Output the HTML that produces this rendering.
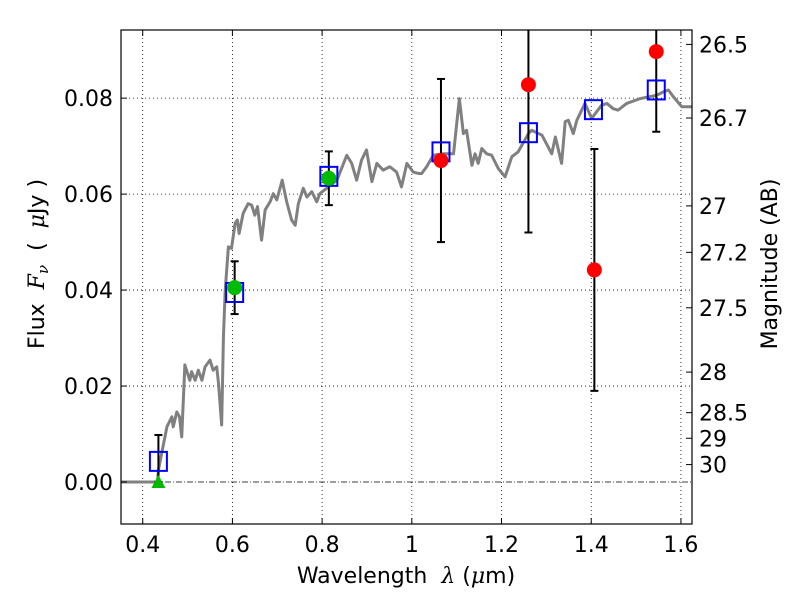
<!DOCTYPE html>
<html><head><meta charset="utf-8"><style>
body{margin:0;background:#fff}
svg{display:block;font-family:"DejaVu Sans","Liberation Sans",sans-serif}
.pre{white-space:pre}
</style></head><body>
<svg id="chart" width="800" height="600">
<defs><clipPath id="clip"><rect x="121" y="30" width="571" height="494"/></clipPath></defs>
<rect x="0" y="0" width="800" height="600" fill="#fff"/>
<g id="grid"></g><g id="plot" clip-path="url(#clip)"></g><g id="axes"></g>
<text class="pre" x="406" y="583" font-size="22" text-anchor="middle">Wavelength  <tspan font-style="italic" font-family="DejaVu Serif, serif">λ</tspan> (<tspan font-style="italic" font-family="DejaVu Serif, serif">μ</tspan>m)</text>
<text class="pre" transform="translate(44,264) rotate(-90)" font-size="22" text-anchor="middle">Flux  <tspan font-style="italic" font-family="DejaVu Serif, serif">F</tspan><tspan font-style="italic" font-family="DejaVu Serif, serif" font-size="15" dy="4">ν</tspan><tspan dy="-4">  (  </tspan><tspan font-style="italic" font-family="DejaVu Serif, serif">μ</tspan>Jy )</text>
<text transform="translate(777,264) rotate(-90)" font-size="22" text-anchor="middle">Magnitude (AB)</text>
</svg>
<script>
const specLam=[0.352,0.433,0.435,0.454,0.465,0.468,0.476,0.482,0.487,0.494,0.505,0.509,0.517,0.524,0.532,0.539,0.550,0.557,0.565,0.569,0.576,0.580,0.584,0.591,0.598,0.606,0.611,0.615,0.624,0.635,0.643,0.650,0.656,0.665,0.673,0.684,0.691,0.699,0.711,0.721,0.732,0.740,0.747,0.758,0.766,0.777,0.788,0.795,0.833,0.855,0.866,0.877,0.888,0.899,0.911,0.922,0.936,0.951,0.966,0.977,0.989,1.003,1.015,1.022,1.033,1.048,1.070,1.093,1.106,1.115,1.122,1.134,1.141,1.148,1.156,1.167,1.178,1.193,1.208,1.223,1.237,1.260,1.267,1.290,1.312,1.320,1.334,1.342,1.349,1.360,1.368,1.386,1.401,1.423,1.435,1.449,1.460,1.479,1.509,1.546,1.561,1.572,1.583,1.602,1.624];
const specFlux=[0,0,0.0025,0.0115,0.0136,0.0115,0.0146,0.0136,0.0094,0.0244,0.0212,0.023,0.0212,0.0233,0.0212,0.024,0.0254,0.0233,0.024,0.0206,0.0119,0.0303,0.040,0.049,0.0487,0.0539,0.0546,0.0518,0.056,0.058,0.0577,0.0556,0.0574,0.0504,0.0567,0.0584,0.0601,0.0588,0.0629,0.0584,0.0546,0.0535,0.058,0.0612,0.0594,0.0605,0.0584,0.0601,0.0629,0.0681,0.0664,0.0629,0.0671,0.0692,0.0626,0.0664,0.065,0.0657,0.0646,0.0615,0.0664,0.0646,0.0643,0.0643,0.0657,0.0681,0.0684,0.0684,0.0799,0.0726,0.0733,0.066,0.0684,0.0664,0.0695,0.0684,0.0681,0.0653,0.0636,0.0678,0.0688,0.0726,0.0733,0.0723,0.0684,0.0719,0.0664,0.0751,0.0754,0.0726,0.0754,0.0789,0.0758,0.0785,0.0789,0.0778,0.0775,0.0789,0.0799,0.0806,0.0813,0.0817,0.0803,0.0782,0.0782];
const obsLam=[0.435,0.605,0.815,1.065,1.26,1.407,1.545];
const obsFlux=[0.0,0.0405,0.0633,0.067,0.0828,0.0442,0.0897];
const obsErr=[0.0098,0.0055,0.0056,0.017,0.0308,0.0252,0.0167];
const obsKind=["tri","green","green","red","red","red","red"];
const modelLam=[0.435,0.605,0.815,1.065,1.26,1.405,1.545];
const modelFlux=[0.0043,0.0395,0.0637,0.0688,0.0728,0.0776,0.0817];
const xTicks=[0.4,0.6,0.8,1.0,1.2,1.4,1.6];
const xTickLabels=["0.4","0.6","0.8","1","1.2","1.4","1.6"];
const yTicks=[0,0.02,0.04,0.06,0.08];
const yTickLabels=["0.00","0.02","0.04","0.06","0.08"];
const magTicks=[26.5,26.7,27,27.2,27.5,28,28.5,29,30];
const magTickLabels=["26.5","26.7","27","27.2","27.5","28","28.5","29","30"];

const L=121,R=692,T=30,B=524;
const X0=0.3516,X1=1.6247,Y0=-0.00875,Y1=0.0942;
const sx=v=>L+(v-X0)/(X1-X0)*(R-L);
const sy=v=>B-(v-Y0)/(Y1-Y0)*(B-T);
const NS="http://www.w3.org/2000/svg";
function mk(parent,tag,attrs){const e=document.createElementNS(NS,tag);for(const k in attrs)e.setAttribute(k,attrs[k]);parent.appendChild(e);return e;}
const grid=document.getElementById('grid'),plot=document.getElementById('plot'),axes=document.getElementById('axes');

xTicks.forEach((t,i)=>{
 const g=mk(grid,'line',{x1:sx(t),x2:sx(t),y1:T,y2:B,stroke:'#000','stroke-width':0.8,'stroke-dasharray':'1,3'});
 
 
 mk(axes,'line',{x1:sx(t),x2:sx(t),y1:B,y2:B-6,stroke:'#000','stroke-width':1});
 mk(axes,'line',{x1:sx(t),x2:sx(t),y1:T,y2:T+6,stroke:'#000','stroke-width':1});
 const tx=mk(axes,'text',{x:sx(t),y:B+28,'font-size':22,'text-anchor':'middle'});
 tx.textContent=xTickLabels[i];
 
 
});
yTicks.forEach((t,i)=>{
 if(t!==0){const g=mk(grid,'line',{x1:L,x2:R,y1:sy(t),y2:sy(t),stroke:'#000','stroke-width':0.8,'stroke-dasharray':'1,3'});
 
 }
 mk(axes,'line',{x1:L,x2:L+6,y1:sy(t),y2:sy(t),stroke:'#000','stroke-width':1});
 const tx=mk(axes,'text',{x:L-8,y:sy(t)+8,'font-size':22,'text-anchor':'end'});
 tx.textContent=yTickLabels[i];
 
 
});
magTicks.forEach((m,i)=>{
 const f=Math.pow(10,(23.9-m)/2.5);
 mk(axes,'line',{x1:R,x2:R-6,y1:sy(f),y2:sy(f),stroke:'#000','stroke-width':1});
 const tx=mk(axes,'text',{x:R+7,y:sy(f)+8,'font-size':22,'text-anchor':'start'});
 tx.textContent=magTickLabels[i];
 
 
});
const zl=mk(grid,'line',{x1:L,x2:R,y1:sy(0),y2:sy(0),stroke:'#000','stroke-width':0.8,'stroke-dasharray':'6,2,1,2'});



const sp=mk(plot,'polyline',{points:specLam.map((l,i)=>sx(l)+','+sy(specFlux[i])).join(' '),fill:'none',stroke:'#808080','stroke-width':3,'stroke-linejoin':'round'});



obsLam.forEach((l,i)=>{
 const x=sx(l),lo=obsKind[i]==='tri'?obsFlux[i]:obsFlux[i]-obsErr[i],hi=obsFlux[i]+obsErr[i];
 const eb=mk(plot,'g',{stroke:'#000','stroke-width':2});
 
 
 mk(eb,'line',{x1:x,x2:x,y1:sy(lo),y2:sy(hi)});
 mk(eb,'line',{x1:x-4,x2:x+4,y1:sy(lo),y2:sy(lo)});
 mk(eb,'line',{x1:x-4,x2:x+4,y1:sy(hi),y2:sy(hi)});
});
modelLam.forEach((l,i)=>{
 const r=mk(plot,'rect',{x:sx(l)-8.5,y:sy(modelFlux[i])-9.5,width:17,height:19,fill:'none',stroke:'#0000ff','stroke-width':2});
 
 
});
obsLam.forEach((l,i)=>{
 const x=sx(l),y=sy(obsFlux[i]);let m;
 if(obsKind[i]==='tri'){m=mk(plot,'polygon',{points:`${x},${y-7} ${x-7},${y+6} ${x+7},${y+6}`,fill:'#00bb00'});}
 else m=mk(plot,'circle',{cx:x,cy:y,r:7.5,fill:obsKind[i]==='red'?'#ff0000':'#00bb00'});
 
 
});
const fr=mk(axes,'rect',{x:L,y:T,width:R-L,height:B-T,fill:'none',stroke:'#000','stroke-width':1.2});


</script>
</body></html>
